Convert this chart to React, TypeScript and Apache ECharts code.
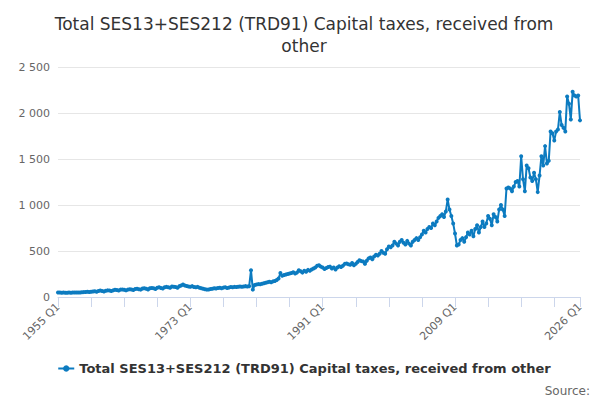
import React, { useEffect, useRef } from "react";
import * as echarts from "echarts";

const startYear = 1955;
const endYear = 2026;
const values: number[] = [
  50,48,47,48, 47,46,48,47, 48,49,48,50, 50,52,53,55, 56,55,58,60,
  62,58,65,70, 66,60,68,72, 70,65,72,78, 75,70,80,82, 78,72,80,85,
  82,75,88,90, 85,80,92,95, 90,82,95,98, 95,88,100,105, 98,92,105,110,
  105,100,115,112, 108,100,118,125, 135,125,120,115, 112,118,108,105, 110,100,95,90,
  85,80,82,88, 90,95,92,98, 100,95,102,105, 98,102,108,105, 110,108,112,115,
  112,115,118,114, 116,290,80,130, 135,140,138,145, 150,155,160,165, 160,170,175,185,
  200,260,230,240, 245,250,255,260, 270,255,265,290, 280,265,285,275, 295,285,300,310,
  320,340,345,330, 320,305,315,325, 330,310,320,300, 320,335,325,340, 360,365,355,350,
  370,345,360,380, 400,390,385,360, 395,420,430,410, 440,460,450,470, 500,480,470,520,
  550,540,560,600, 580,560,600,620, 590,570,610,580, 560,600,620,640, 620,650,680,720,
  700,740,760,750, 800,780,820,860, 880,900,870,930, 1060,950,880,800, 690,560,570,620,
  640,600,650,700, 680,720,660,740, 780,700,760,820, 760,800,880,850, 780,900,870,820,
  950,1000,950,880, 1180,1190,1180,1150, 1200,1250,1260,1200, 1530,1280,1150,1430, 1400,1300,1260,1350,
  1280,1140,1320,1530, 1430,1640,1450,1480, 1800,1780,1700,1800, 1820,2010,1870,1840, 1800,2180,2100,1930,
  2230,2190,2180,2190, 1920,
];
const categories: string[] = [];
for (let y = startYear; y <= endYear; y++) for (let q = 1; q <= 4; q++) categories.push(`${y} Q${q}`);
categories.length = values.length;
const seriesName = "Total SES13+SES212 (TRD91) Capital taxes, received from other";
const titleText = "Total SES13+SES212 (TRD91) Capital taxes, received from\nother";

export default function App() {
  const ref = useRef<HTMLDivElement>(null);
  useEffect(() => {
    const chart = echarts.init(ref.current!, null, { renderer: "svg" });
    const last = values.length - 1;
    chart.setOption({
      animation: false,
      textStyle: { fontFamily: "'DejaVu Sans', sans-serif" },
      title: {
        text: titleText, left: "center", top: 0,
        textStyle: { fontSize: 17, fontWeight: "normal", color: "#333", lineHeight: 22 },
      },
      legend: {
        bottom: 20, left: "center", itemWidth: 16, itemHeight: 8,
        textStyle: { fontSize: 13, fontWeight: "bold", color: "#333" },
        data: [seriesName],
      },
      graphic: [{ type: "text", right: 10, bottom: 3, style: { text: "Source:", fontSize: 12, fill: "#666", fontFamily: "'DejaVu Sans', sans-serif" } }],
      grid: { left: 50, right: 20, top: 59, bottom: 103 },
      xAxis: {
        type: "category", data: categories, boundaryGap: false,
        axisLine: { lineStyle: { color: "#ccd6eb" } },
        axisTick: { lineStyle: { color: "#ccd6eb" }, length: 10, interval: (i: number) => i % 18 === 0 || i === last },
        axisLabel: {
          rotate: 45, color: "#666", fontSize: 11, margin: 8,
          interval: (i: number) => i % 72 === 0 || i === last,
          showMaxLabel: true,
        },
      },
      yAxis: {
        type: "value", min: 0, max: 2500, interval: 500,
        axisLabel: { color: "#666", fontSize: 11, formatter: (v: number) => v >= 1000 ? `${Math.floor(v / 1000)} ${String(v % 1000).padStart(3, "0")}` : `${v}` },
        splitLine: { lineStyle: { color: "#e6e6e6" } },
      },
      series: [{
        name: seriesName, type: "line", data: values,
        symbol: "circle", symbolSize: 4, showSymbol: true, showAllSymbol: true,
        itemStyle: { color: "#0c7bc0" }, lineStyle: { width: 2, color: "#0c7bc0" },
      }],
    });
    return () => chart.dispose();
  }, []);
  return <div ref={ref} style={{ width: 592, height: 392 }} />;
}
